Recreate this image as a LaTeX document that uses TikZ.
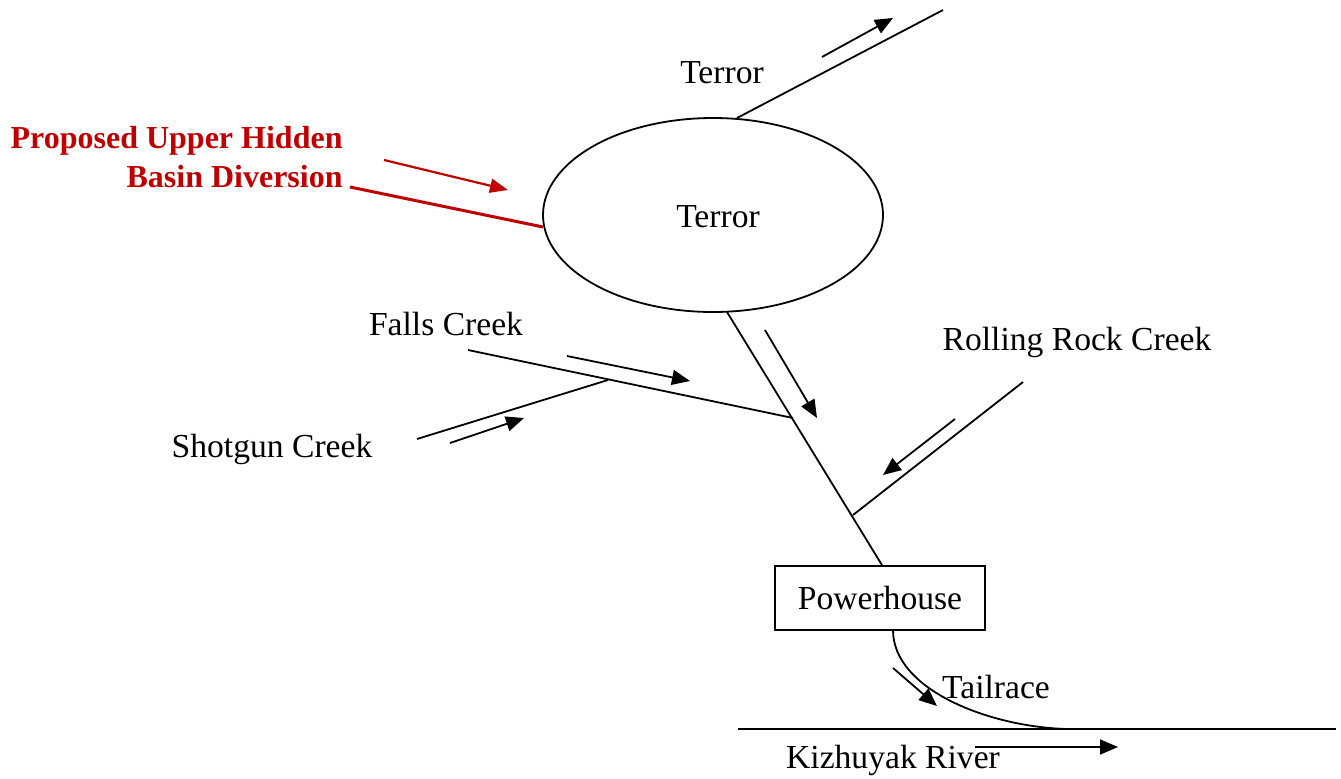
\documentclass[tikz,border=0pt]{standalone}
\usepackage{fontspec}
\setmainfont{Liberation Serif}
\usetikzlibrary{shapes.geometric,arrows.meta}
\definecolor{divred}{RGB}{192,0,0}
\tikzset{
  line/.style={line width=0.9pt},
  flow/.style={line width=0.9pt,-{Triangle[length=9pt,width=7.5pt]}},
  redflow/.style={line width=1.1pt,divred,-{Triangle[length=9pt,width=7pt]}},
  lbl/.style={font=\fontsize{16.8}{20}\selectfont,inner sep=0pt},
}
\begin{document}
\begin{tikzpicture}[x=0.5pt,y=-0.5pt]
\useasboundingbox (0,0) rectangle (1341,778);
% nodes
\node[ellipse,draw,line width=0.9pt,minimum width=170pt,minimum height=97pt,inner sep=0pt] (terror) at (713,215) {};
\node[lbl] (terrortxt) at (718,217) {Terror};
\node[draw,line width=0.9pt,minimum width=105pt,minimum height=32pt,inner sep=0pt,lbl] (ph) at (880,598) {Powerhouse};
\node[lbl] (terrorlbl) at (722,73) {Terror};
\node[lbl] (falls) at (446,324) {Falls Creek};
\node[lbl] (shotgun) at (272,449) {Shotgun Creek};
\node[lbl] (rolling) at (1077,342) {Rolling Rock Creek};
\node[lbl] (tailrace) at (996,687) {Tailrace};
\node[lbl] (river) at (893,760) {Kizhuyak River};
\node[inner sep=0pt,anchor=east,align=right,text=divred,font=\fontsize{16}{19.5}\selectfont\bfseries] (red) at (343,157) {Proposed Upper Hidden\\Basin Diversion};
% coordinates
\coordinate (tstart) at (737,118);
\coordinate (tend) at (943,10);
\coordinate (rs) at (350,187);
\coordinate (re) at (543,227);
\coordinate (ms) at (727,312);
\coordinate (j1) at (793,418);
\coordinate (j2) at (853,515);
\coordinate (j0) at (608,380);
\coordinate (fs) at (468,350);
\coordinate (ss) at (417,439);
\coordinate (rrs) at (1023,382);
\coordinate (trs) at (893,630);
\coordinate (trj) at (1067,729);
\coordinate (rvl) at (738,729);
\coordinate (rvr) at (1336,729);
% channels
\draw[line] (tstart) -- (tend);
\draw[line,divred,line width=1.5pt] (rs) -- (re);
\draw[line] (ms) -- (ph.north -| 882,0);
\draw[line] (fs) -- (j1);
\draw[line] (ss) -- (j0);
\draw[line] (rrs) -- (j2);
\draw[line] (trs) .. controls (893,690) and (990,727) .. (trj);
\draw[line] (rvl) -- (rvr);
% flow arrows
\coordinate (a1s) at (822,57); \coordinate (a1e) at (893,18);
\draw[flow] (a1s) -- (a1e);
\coordinate (a2s) at (384,160); \coordinate (a2e) at (508,190);
\draw[redflow] (a2s) -- (a2e);
\coordinate (a3s) at (765,330); \coordinate (a3e) at (817,418);
\draw[flow] (a3s) -- (a3e);
\coordinate (a4s) at (567,356); \coordinate (a4e) at (690,381);
\draw[flow] (a4s) -- (a4e);
\coordinate (a5s) at (450,443); \coordinate (a5e) at (524,418);
\draw[flow] (a5s) -- (a5e);
\coordinate (a6s) at (955,419); \coordinate (a6e) at (883,475);
\draw[flow] (a6s) -- (a6e);
\coordinate (a7s) at (893,668); \coordinate (a7e) at (937,706);
\draw[flow] (a7s) -- (a7e);
\coordinate (a8s) at (975,747); \coordinate (a8e) at (1118,747);
\draw[flow] (a8s) -- (a8e);
\end{tikzpicture}
\end{document}
